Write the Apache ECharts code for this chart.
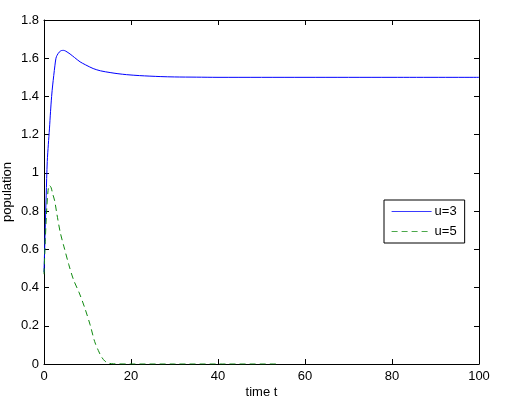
<!DOCTYPE html>
<html>
<head>
<meta charset="utf-8">
<script src="https://cdn.jsdelivr.net/npm/echarts@6/dist/echarts.min.js"></script>
<style>
  html, body { margin: 0; padding: 0; background: #fff; }
  #chart { width: 508px; height: 403px; }
</style>
</head>
<body>
<div id="chart"></div>
<script>
// time points and populations
var tBlue = [0, 0.25, 0.5, 0.75, 1, 1.25, 1.5, 1.75, 2, 2.5, 2.75, 3, 3.5, 4, 4.5, 5, 6, 7, 8.3, 9.5, 11.3, 13, 15.2, 17, 19, 22, 26.7, 30, 35, 40, 60, 80, 100];
var uBlue = [0.48, 0.68, 0.88, 1.06, 1.15, 1.23, 1.32, 1.4, 1.46, 1.56, 1.6, 1.615, 1.632, 1.64, 1.641, 1.637, 1.622, 1.604, 1.581, 1.566, 1.546, 1.534, 1.525, 1.519, 1.514, 1.509, 1.504, 1.502, 1.501, 1.5, 1.5, 1.5, 1.5];

var tGreen = [0, 0.3, 0.6, 0.9, 1.2, 1.6, 2, 2.45, 3, 3.75, 4.75, 5.7, 6.8, 8.1, 9.35, 10.6, 11.65, 12.5, 13.2, 14, 14.9, 16, 20, 30, 40, 54];
var uGreen = [0.47, 0.65, 0.8, 0.9, 0.935, 0.925, 0.89, 0.854, 0.78, 0.687, 0.6, 0.52, 0.44, 0.372, 0.295, 0.205, 0.117, 0.07, 0.038, 0.015, 0.004, 0.001, 0, 0, 0, 0];

var xTicks = { min: 0, max: 100, interval: 20 };
var yTicks = { min: 0, max: 1.8, interval: 0.2 };

function pairs(xs, ys) {
  return xs.map(function(x, i) { return [x, ys[i]]; });
}

var font = 'Liberation Sans, Arial, Helvetica, sans-serif';
var ink = '#000';
var fs = 13;
var blue = '#0000ff';
var green = '#108a10';
var dash = [6, 4];

function axisBase(extra) {
  var base = {
    type: 'value',
    axisLine: { show: true, onZero: false, lineStyle: { color: ink, width: 1 } },
    axisTick: { show: true, inside: true, length: 5, lineStyle: { color: ink } },
    splitLine: { show: false },
    axisLabel: { color: ink, fontFamily: font, fontSize: fs }
  };
  for (var k in extra) base[k] = extra[k];
  return base;
}

var chart = echarts.init(document.getElementById('chart'), null, { renderer: 'canvas' });
chart.setOption({
  animation: false,
  backgroundColor: '#fff',
  grid: { left: 44, right: 29, top: 20, bottom: 39, containLabel: false, outerBoundsMode: 'none' },
  xAxis: [
    axisBase({
      position: 'bottom', min: xTicks.min, max: xTicks.max, interval: xTicks.interval,
      name: 'time t', nameLocation: 'middle', nameGap: 22, nameMoveOverlap: false,
      nameTextStyle: { color: ink, fontFamily: font, fontSize: fs },
      axisLabel: { color: ink, fontFamily: font, fontSize: fs, margin: 6 }
    }),
    axisBase({
      position: 'top', min: xTicks.min, max: xTicks.max, interval: xTicks.interval,
      axisLabel: { show: false }
    })
  ],
  yAxis: [
    axisBase({
      position: 'left', min: yTicks.min, max: yTicks.max, interval: yTicks.interval,
      name: 'population', nameLocation: 'middle', nameGap: 30, nameMoveOverlap: false,
      nameTextStyle: { color: ink, fontFamily: font, fontSize: fs },
      axisLabel: {
        color: ink, fontFamily: font, fontSize: fs, margin: 5,
        formatter: function(v) { return String(Math.round(v * 10) / 10); }
      }
    }),
    axisBase({
      position: 'right', min: yTicks.min, max: yTicks.max, interval: yTicks.interval,
      axisLabel: { show: false }
    })
  ],
  legend: {
    orient: 'vertical',
    left: 384, top: 200,
    padding: [5, 8, 5, 7],
    itemWidth: 40, itemHeight: 13, itemGap: 7,
    backgroundColor: '#fff',
    borderColor: ink, borderWidth: 1, borderRadius: 0,
    itemStyle: { opacity: 0 },
    textStyle: { color: ink, fontFamily: font, fontSize: fs, padding: [0, 0, 0, -2] },
    data: [
      { name: 'u=3', lineStyle: { color: '#3a3aff', width: 1.2, type: 'solid' } },
      { name: 'u=5', lineStyle: { color: '#4aa84a', width: 1.2, type: dash } }
    ]
  },
  series: [
    {
      name: 'u=3',
      type: 'line',
      symbol: 'none',
      smooth: 0.3,
      data: pairs(tBlue, uBlue),
      lineStyle: { color: blue, width: 1 },
      itemStyle: { color: blue },
      z: 3
    },
    {
      name: 'u=5',
      type: 'line',
      symbol: 'none',
      smooth: 0.3,
      data: pairs(tGreen, uGreen),
      lineStyle: { color: green, width: 1, type: dash },
      itemStyle: { color: green },
      z: 3
    }
  ]
});
</script>
</body>
</html>
